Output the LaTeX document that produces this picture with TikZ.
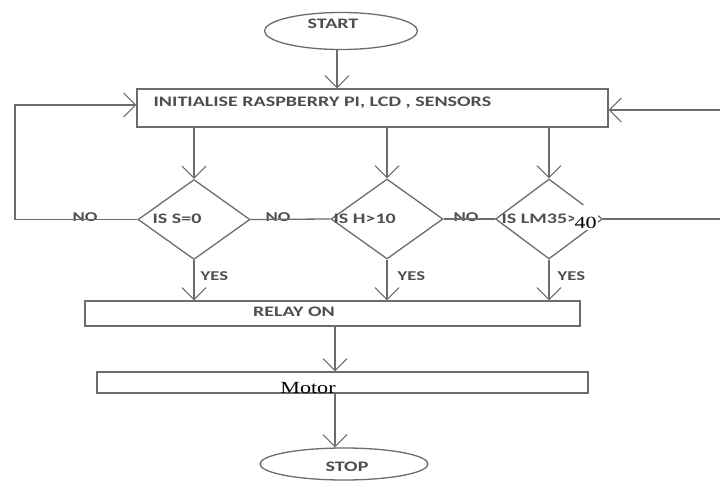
\documentclass[tikz,border=0pt]{standalone}
\usepackage{fontspec}
\setmainfont{Carlito}[FakeStretch=1.38]
\newfontfamily\romanfont{Liberation Serif}[FakeStretch=1.3]
\usetikzlibrary{shapes.geometric,arrows.meta}
\definecolor{linegray}{HTML}{6C6C6C}
\definecolor{textgray}{HTML}{4E4E4E}

\begin{document}
\begin{tikzpicture}[x=1pt,y=-1pt,line width=1.3pt,color=linegray,
    >={Straight Barb[length=12pt,width=24pt,line width=1.1pt]},
    terminal/.style={draw,ellipse,inner sep=0pt},
    flowbox/.style={draw,rectangle,inner sep=0pt},
    decision/.style={draw,diamond,inner sep=0pt,minimum width=112pt,minimum height=80pt},
    txt/.style={text=textgray,inner sep=0pt,font=\fontsize{14.5}{16}\selectfont\bfseries},
    smalltxt/.style={txt,font=\fontsize{13.5}{15}\selectfont\bfseries},
    serif/.style={text=black,inner sep=0pt,font=\fontsize{17}{19}\romanfont}]
    \useasboundingbox (0,0) rectangle (720,481);

    \node[terminal,minimum width=153pt,minimum height=37pt] (start) at (341,31) {};
    \node[flowbox,minimum width=471pt,minimum height=38pt] (init) at (372.5,108) {};
    \node[decision] (d1) at (194,219.5) {};
    \node[decision] (d2) at (387,219) {};
    \node[decision,minimum width=107pt] (d3) at (549,219) {};
    \node[flowbox,minimum width=495pt,minimum height=25pt] (relay) at (332.5,313.5) {};
    \node[flowbox,minimum width=491pt,minimum height=21pt] (motor) at (342.5,382.5) {};
    \node[terminal,minimum width=168pt,minimum height=32pt] (stop) at (344,464) {};

    \node[txt] (tstart) at (333,24) {START};
    \node[txt,anchor=west] (tinit) at (153,103) {INITIALISE RASPBERRY PI, LCD , SENSORS};
    \node[txt,anchor=west] (td1) at (152,219) {IS S=0};
    \node[txt,anchor=west] (td2) at (333,219) {IS H>10};
    \node[txt,anchor=west] (td3) at (501,219) {IS LM35>};
    \node[serif,fill=white,inner xsep=1pt,text height=24pt,text depth=1pt,anchor=base west] (tforty) at (573,229) {40};
    \node[smalltxt] (no1) at (85,217) {NO};
    \node[smalltxt] (no2) at (278,217) {NO};
    \node[smalltxt] (no3) at (466,217) {NO};
    \node[smalltxt,anchor=west] (yes1) at (200,276) {YES};
    \node[smalltxt,anchor=west] (yes2) at (397,276) {YES};
    \node[smalltxt,anchor=west] (yes3) at (557,276) {YES};
    \node[txt] (trelay) at (294,312) {RELAY ON};
    \node[serif] (tmotor) at (308,388) {Motor};
    \node[txt] (tstop) at (347,467) {STOP};

    \coordinate (lside) at (15,105);
    \coordinate (rside) at (724,110);

    \draw[->] (start.south -| 337,0) to (init.north -| 337,0);
    \draw[->] (init.south -| d1.north) to (d1.north); \draw[->] (init.south -| d2.north) to (d2.north); \draw[->] (init.south -| d3.north) to (d3.north);
    \draw (d1.east) to (d2.west); \draw (d2.east) to (d3.west);
    \draw[->] (d1.west) -| (lside) -- (init.west |- lside);
    \draw[->] (d3.east) -| (rside) -- (init.east |- rside);
    \draw[->] (d1.south) to (relay.north -| d1.south); \draw[->] (d2.south) to (relay.north -| d2.south); \draw[->] (d3.south) to (relay.north -| d3.south);
    \draw[->] (relay.south -| 335,0) to (motor.north -| 335,0);
    \draw[->] (motor.south -| 335,0) to (stop.north -| 335,0);
\end{tikzpicture}
\end{document}
